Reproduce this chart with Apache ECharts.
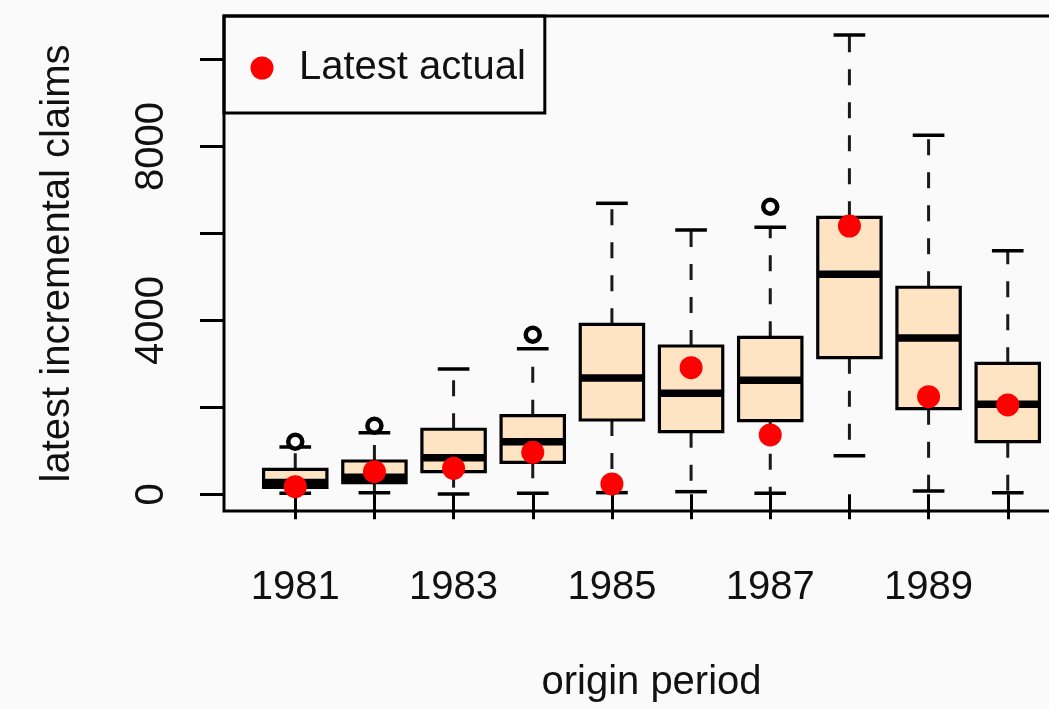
<!DOCTYPE html>
<html>
<head>
<meta charset="utf-8">
<script src="https://cdn.jsdelivr.net/npm/echarts@6/dist/echarts.min.js"></script>
<style>
html,body{margin:0;padding:0;background:#fafafa;}
#chart{width:1049px;height:709px;}
</style>
</head>
<body>
<div id="chart"></div>
<script>
// ---- data ----
const years = ['1981','1982','1983','1984','1985','1986','1987','1988','1989','1990'];
const lowerWhisker = [23, 37, 7, 23, 37, 60, 23, 888, 76, 37];
const q1 =           [160, 267, 520, 736, 1709, 1440, 1693, 3143, 1970, 1210];
const median =       [270, 391, 842, 1210, 2675, 2323, 2623, 5061, 3596, 2071];
const q3 =           [575, 766, 1496, 1808, 3911, 3412, 3612, 6373, 4763, 3014];
const upperWhisker = [1088, 1417, 2883, 3350, 6695, 6081, 6143, 10570, 8260, 5605];
const latestActual = [175, 520, 598, 966, 237, 2913, 1364, 6173, 2246, 2055];
const outlierYears = ['1981','1982','1984','1987'];
const outlierValues = [1210, 1578, 3672, 6617];
const yTickValues = [0, 2000, 4000, 6000, 8000, 10000];
const yLabelValues = [0, 4000, 8000];
const xLabelYears = ['1981','1983','1985','1987','1989'];

// ---- build series data ----
const pos = y => years.indexOf(y) + 1;
const boxData = years.map((y, i) => [i + 1, lowerWhisker[i], q1[i], median[i], q3[i], upperWhisker[i]]);
const actualData = years.map((y, i) => [i + 1, latestActual[i]]);
const outlierData = outlierYears.map((y, i) => [pos(y), outlierValues[i]]);

const FONT = 'Liberation Sans, Arial, Helvetica, sans-serif';
const TXT = '#111';

function renderBox(params, api) {
  const x = api.value(0);
  const pLo = api.coord([x, api.value(1)]);
  const pA = api.coord([x, api.value(2)]);
  const pM = api.coord([x, api.value(3)]);
  const pB = api.coord([x, api.value(4)]);
  const pHi = api.coord([x, api.value(5)]);
  const halfBox = api.size([0.8, 0])[0] / 2;
  const halfCap = api.size([0.4, 0])[0] / 2;
  const cx = pA[0];
  const dashStyle = {stroke: '#1a1a1a', lineWidth: 3, lineDash: [16, 17], fill: null};
  const solid = w => ({stroke: '#000', lineWidth: w, fill: null});
  return {
    type: 'group',
    children: [
      {type: 'line', shape: {x1: cx, y1: pB[1], x2: cx, y2: pHi[1]}, style: dashStyle},
      {type: 'line', shape: {x1: cx, y1: pA[1], x2: cx, y2: pLo[1]}, style: dashStyle},
      {type: 'line', shape: {x1: cx - halfCap, y1: pHi[1], x2: cx + halfCap, y2: pHi[1]}, style: solid(3.5)},
      {type: 'line', shape: {x1: cx - halfCap, y1: pLo[1], x2: cx + halfCap, y2: pLo[1]}, style: solid(3.5)},
      {type: 'rect', shape: {x: cx - halfBox, y: pB[1], width: halfBox * 2, height: pA[1] - pB[1]},
        style: {fill: '#ffe4c4', stroke: '#000', lineWidth: 3.2}},
      {type: 'line', shape: {x1: cx - halfBox, y1: pM[1], x2: cx + halfBox, y2: pM[1]}, style: solid(7.5)}
    ]
  };
}

const chart = echarts.init(document.getElementById('chart'), null, {renderer: 'canvas'});
chart.setOption({
  backgroundColor: '#fafafa',
  animation: false,
  grid: {
    left: 224, top: 16, width: 855, height: 495,
    show: true, borderColor: '#000', borderWidth: 3, backgroundColor: 'transparent',
    containLabel: false, outerBoundsMode: 'none'
  },
  legend: {
    left: 224, top: 16,
    padding: [32, 19, 25, 26.5],
    borderColor: '#000', borderWidth: 3,
    itemWidth: 64, itemHeight: 23,
    textStyle: {fontSize: 40, color: TXT, fontFamily: FONT},
    data: [{name: 'Latest actual', icon: 'circle'}]
  },
  xAxis: {
    type: 'value', min: 0.1, max: 10.9,
    axisLine: {show: false},
    splitLine: {show: false},
    axisTick: {show: true, length: 25, customValues: years.map((y, i) => i + 1),
      lineStyle: {color: '#000', width: 3}},
    axisLabel: {
      customValues: xLabelYears.map(pos), margin: 57,
      fontSize: 40, color: TXT, fontFamily: FONT,
      formatter: v => years[Math.round(v) - 1]
    },
    name: 'origin period', nameLocation: 'middle', nameGap: 152,
    nameMoveOverlap: false,
    nameTextStyle: {fontSize: 40, color: TXT, fontFamily: FONT}
  },
  yAxis: {
    type: 'value', min: -385, max: 11005,
    axisLine: {show: false},
    splitLine: {show: false},
    axisTick: {show: true, length: 24, customValues: yTickValues,
      lineStyle: {color: '#000', width: 3}},
    axisLabel: {
      customValues: yLabelValues, rotate: 90, margin: 52,
      fontSize: 40, color: TXT, fontFamily: FONT,
      formatter: v => String(Math.round(v))
    },
    name: 'latest incremental claims', nameLocation: 'middle', nameGap: 146,
    nameMoveOverlap: false,
    nameTextStyle: {fontSize: 40, color: TXT, fontFamily: FONT}
  },
  series: [
    {
      type: 'custom', name: 'boxes', renderItem: renderBox,
      encode: {x: 0, y: [1, 2, 3, 4, 5]},
      data: boxData, z: 2
    },
    {
      type: 'scatter', name: 'outliers', data: outlierData,
      symbol: 'circle', symbolSize: 14,
      itemStyle: {color: '#fafafa', borderColor: '#000', borderWidth: 4.5, opacity: 1},
      z: 3
    },
    {
      type: 'scatter', name: 'Latest actual', data: actualData,
      symbol: 'circle', symbolSize: 23,
      itemStyle: {color: '#ff0000', opacity: 1},
      z: 4
    }
  ]
});
</script>
</body>
</html>
